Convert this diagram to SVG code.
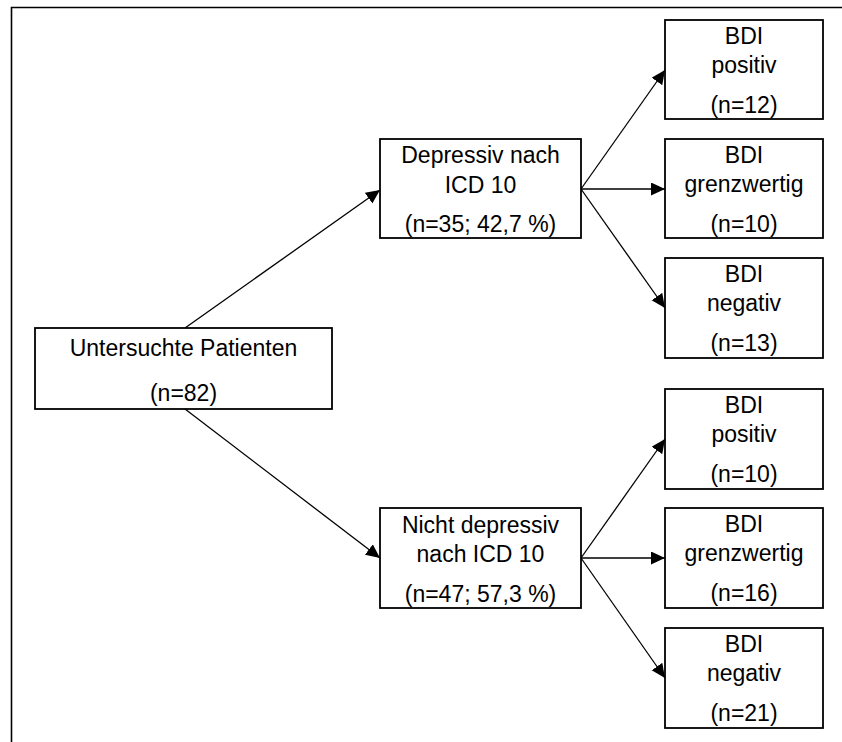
<svg xmlns="http://www.w3.org/2000/svg" width="842" height="742" viewBox="0 0 842 742">
<style>
.box{fill:#fff;stroke:#000;stroke-width:1.8}
.t{font-family:"Liberation Sans",Arial,sans-serif;font-size:23px;fill:#000;text-anchor:middle}
.c{stroke:#000;stroke-width:1.3;fill:none;marker-end:url(#ah)}
.frame{stroke:#000;stroke-width:1.6;fill:none}
</style>
<defs>
<marker id="ah" markerUnits="userSpaceOnUse" markerWidth="15" markerHeight="14" refX="14" refY="6.5" orient="auto">
<path d="M0,0 L14,6.5 L0,13 z" fill="#000"/>
</marker>
</defs>
<rect width="842" height="742" fill="#fff"/>
<path class="frame" d="M11.5,742 L11.5,7.5 L842,7.5"/>
<g id="connectors">
<line class="c" x1="185" y1="328" x2="380" y2="190"/>
<line class="c" x1="185" y1="409" x2="380" y2="558"/>
<line class="c" x1="581" y1="189" x2="665" y2="70"/>
<line class="c" x1="581" y1="189" x2="665" y2="189"/>
<line class="c" x1="581" y1="189" x2="665" y2="308"/>
<line class="c" x1="581" y1="558" x2="665" y2="439"/>
<line class="c" x1="581" y1="558" x2="665" y2="558"/>
<line class="c" x1="581" y1="558" x2="665" y2="678"/>
</g>
<g id="root">
<rect class="box" x="35" y="328" width="297" height="81"/>
<text class="t" x="183.5" y="356">Untersuchte Patienten</text>
<text class="t" x="183.5" y="401">(n=82)</text>
</g>
<g id="dep">
<rect class="box" x="380" y="139" width="201" height="99"/>
<text class="t" x="480.5" y="163">Depressiv nach</text>
<text class="t" x="480.5" y="193">ICD 10</text>
<text class="t" x="480.5" y="232">(n=35; 42,7 %)</text>
</g>
<g id="nondep">
<rect class="box" x="380" y="508" width="201" height="100"/>
<text class="t" x="480.5" y="533">Nicht depressiv</text>
<text class="t" x="480.5" y="562">nach ICD 10</text>
<text class="t" x="480.5" y="602">(n=47; 57,3 %)</text>
</g>
<g id="dep-pos">
<rect class="box" x="665" y="20" width="158" height="99"/>
<text class="t" x="744" y="44">BDI</text>
<text class="t" x="744" y="73">positiv</text>
<text class="t" x="744" y="113">(n=12)</text>
</g>
<g id="dep-grenz">
<rect class="box" x="665" y="139" width="158" height="99"/>
<text class="t" x="744" y="163">BDI</text>
<text class="t" x="744" y="192">grenzwertig</text>
<text class="t" x="744" y="232">(n=10)</text>
</g>
<g id="dep-neg">
<rect class="box" x="665" y="258" width="158" height="100"/>
<text class="t" x="744" y="282">BDI</text>
<text class="t" x="744" y="311">negativ</text>
<text class="t" x="744" y="351">(n=13)</text>
</g>
<g id="non-pos">
<rect class="box" x="665" y="389" width="158" height="100"/>
<text class="t" x="744" y="413">BDI</text>
<text class="t" x="744" y="442">positiv</text>
<text class="t" x="744" y="482">(n=10)</text>
</g>
<g id="non-grenz">
<rect class="box" x="665" y="508" width="158" height="100"/>
<text class="t" x="744" y="532">BDI</text>
<text class="t" x="744" y="561">grenzwertig</text>
<text class="t" x="744" y="601">(n=16)</text>
</g>
<g id="non-neg">
<rect class="box" x="665" y="628" width="158" height="100"/>
<text class="t" x="744" y="652">BDI</text>
<text class="t" x="744" y="681">negativ</text>
<text class="t" x="744" y="721">(n=21)</text>
</g>
</svg>
